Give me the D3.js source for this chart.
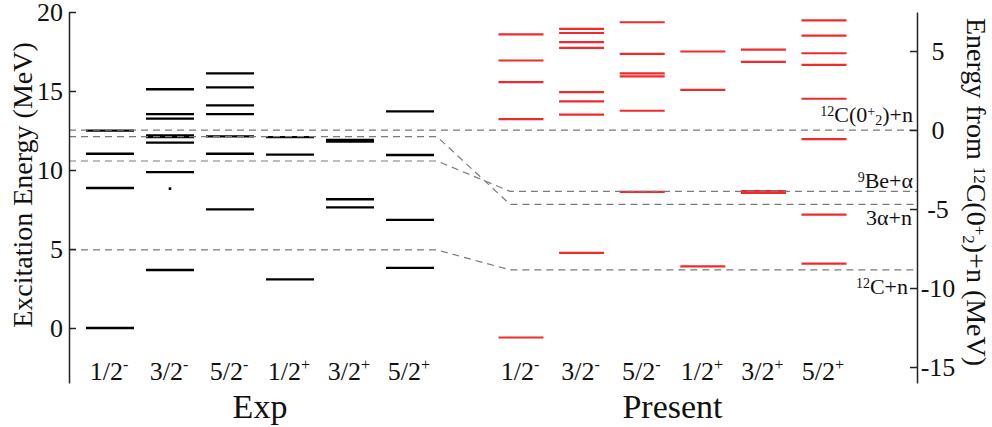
<!DOCTYPE html>
<html><head><meta charset="utf-8">
<script src="https://cdn.jsdelivr.net/npm/d3@7"></script>
</head><body style="margin:0">
<svg id="chart" width="992" height="427"></svg>
<script>
// ---------- data ----------
const categories = ["1/2-", "3/2-", "5/2-", "1/2+", "3/2+", "5/2+"];
const groupLabels = ["Exp", "Present"];
const leftTicks = [0, 5, 10, 15, 20];
const rightTicks = [-15, -10, -5, 0, 5];
// shift between left (excitation) axis and right (from 12C(0+2)+n) axis
const axisShift = 12.53;

// experimental levels (excitation energy, MeV)
const exp_1_2m = [0, 8.86, 11.03, 12.49];
const exp_3_2m = [3.67, 9.87, 11.73, 12.08, 12.19, 13.25, 13.54, 15.11];
const exp_5_2m = [7.51, 11.03, 12.13, 13.54, 14.09, 15.23, 16.12];
const exp_1_2p = [3.08, 10.97, 12.08];
const exp_3_2p = [7.64, 8.15, 11.80, 11.90];
const exp_5_2p = [3.80, 6.84, 10.95, 13.71];
const expDots = [{cat: "3/2-", e: 8.82}];

// present levels (energy from 12C(0+2)+n, MeV)
const pres_1_2m = [-13.13, 0.69, 3.03, 4.40, 6.06];
const pres_3_2m = [-7.78, 0.97, 1.81, 2.40, 5.20, 5.56, 6.14, 6.40];
const pres_5_2m = [-3.91, 1.22, 3.39, 3.58, 4.82, 6.82];
const pres_1_2p = [-8.63, 2.54, 4.97];
const pres_3_2p = [-3.98, -3.86, 4.31, 5.09];
const pres_5_2p = [-8.46, -5.35, -0.57, 1.98, 4.12, 4.86, 5.98, 6.94];

// thresholds
const thrNames = ["12C(0+2)+n", "3α+n", "9Be+α", "12C+n"];
const thrExp = [12.53, 12.11, 10.57, 4.94];      // left axis
const thrPres = [0, -4.70, -3.88, -8.85];         // right axis

// ---------- layout ----------
const svg = d3.select("#chart");
const FONT = '"Liberation Serif", monospace';
const axL = 69, axR = 917, yTop = 12, yBot = 383;
const yL = d3.scaleLinear().domain([20 - (yBot - yTop) / 15.8, 20]).range([yBot, yTop]);
const yR = d3.scaleLinear().domain(yL.domain().map(v => v - axisShift)).range([yBot, yTop]);
const xExp = d3.scalePoint().domain(categories).range([110, 410]);
const xPres = d3.scalePoint().domain(categories).range([521, 824]);
const hwExp = 24, hwPres = 22.5;

const expTable = categories.map((c, i) => ({cat: c, vals: [exp_1_2m, exp_3_2m, exp_5_2m, exp_1_2p, exp_3_2p, exp_5_2p][i]}));
const presTable = categories.map((c, i) => ({cat: c, vals: [pres_1_2m, pres_3_2m, pres_5_2m, pres_1_2p, pres_3_2p, pres_5_2p][i]}));

// ---------- levels ----------
expTable.forEach(col => {
  svg.append("g").selectAll("line").data(col.vals).join("line")
    .attr("x1", xExp(col.cat) - hwExp).attr("x2", xExp(col.cat) + hwExp)
    .attr("y1", d => yL(d)).attr("y2", d => yL(d))
    .attr("stroke", "#000").attr("stroke-width", 2.3);
});
svg.append("g").selectAll("rect").data(expDots).join("rect")
  .attr("x", d => xExp(d.cat) - 1.3).attr("y", d => yL(d.e) - 1.3)
  .attr("width", 2.6).attr("height", 2.6).attr("fill", "#000");
presTable.forEach(col => {
  svg.append("g").selectAll("line").data(col.vals).join("line")
    .attr("x1", xPres(col.cat) - hwPres).attr("x2", xPres(col.cat) + hwPres)
    .attr("y1", d => yR(d)).attr("y2", d => yR(d))
    .attr("stroke", "#f02a2a").attr("stroke-width", 2.2);
});

// ---------- thresholds ----------
const xBreak1 = xExp(categories[5]) + hwExp + 3;
const xBreak2 = xPres(categories[0]) - 11;
const line = d3.line();
thrNames.forEach((n, i) => {
  svg.append("path")
    .attr("d", line([[axL, yL(thrExp[i])], [xBreak1, yL(thrExp[i])], [xBreak2, yR(thrPres[i])], [axR, yR(thrPres[i])]]))
    .attr("fill", "none").attr("stroke", "#7a7a7a").attr("stroke-width", 1.2)
    .attr("stroke-dasharray", "7,5");
});

// ---------- axes ----------
const gL = svg.append("g").attr("transform", `translate(${axL},0)`)
  .call(d3.axisLeft(yL).tickValues(leftTicks).tickFormat(d => String(d))
    .tickSizeInner(-7).tickSizeOuter(0).tickPadding(6));
const gR = svg.append("g").attr("transform", `translate(${axR},0)`)
  .call(d3.axisRight(yR).tickValues(rightTicks).tickFormat(d => String(d))
    .tickSizeInner(-7).tickSizeOuter(0).tickPadding(21));
[gL, gR].forEach(g => {
  g.attr("font-family", null).attr("font-size", null);
  g.select(".domain").attr("stroke", "#222").attr("stroke-width", 1.5);
  g.selectAll(".tick line").attr("stroke", "#222").attr("stroke-width", 1.5);
  g.selectAll(".tick text").style("font-family", FONT).style("font-size", "26px").attr("fill", "#111");
});
gR.selectAll(".tick text").attr("text-anchor", "middle");

// ---------- texts ----------
function txt(parent, size) {
  return parent.append("text").style("font-family", FONT).style("font-size", size + "px").attr("fill", "#111");
}
// rich text helper: segments with optional superscript/subscript
function rich(sel, segs, size, supF = 0.38, subF = 0.2) {
  const small = Math.round(size * 0.62);
  let cur = 0;
  segs.forEach(s => {
    const target = s.k === "sup" ? -size * supF : s.k === "sub" ? size * subF : 0;
    sel.append("tspan")
      .style("font-family", FONT)
      .style("font-size", (s.k ? small : size) + "px")
      .attr("dy", target - cur)
      .text(s.t);
    cur = target;
  });
}
function parseName(n) {
  if (n === "12C(0+2)+n") return [{t:"12",k:"sup"},{t:"C(0"},{t:"+",k:"sup"},{t:"2",k:"sub"},{t:")+n"}];
  if (n === "9Be+α") return [{t:"9",k:"sup"},{t:"Be+α"}];
  if (n === "12C+n") return [{t:"12",k:"sup"},{t:"C+n"}];
  return [{t:n}];
}

// axis titles
const tl = txt(svg, 28).attr("transform", `translate(32,185) rotate(-90)`).attr("text-anchor", "middle");
rich(tl, [{t:"Excitation Energy (MeV)"}], 28);
const tr = txt(svg, 28).attr("transform", `translate(967,192) rotate(90)`).attr("text-anchor", "middle");
rich(tr, [{t:"Energy from "},{t:"12",k:"sup"},{t:"C(0"},{t:"+",k:"sup"},{t:"2",k:"sub"},{t:")+n (MeV)"}], 28, 0.26, 0.14);

// threshold labels
const thrLabelDy = [-8, 21, -3, 24];
const thrLabelDx = [-4, -5, -4, -9];
thrNames.forEach((n, i) => {
  const t = txt(svg, 22).attr("x", axR + thrLabelDx[i]).attr("y", yR(thrPres[i]) + thrLabelDy[i])
    .attr("text-anchor", "end");
  rich(t, parseName(n), 22, 0.27, 0.14);
});

// category labels
[xExp, xPres].forEach(xs => {
  categories.forEach(c => {
    const t = txt(svg, 26).attr("x", xs(c) - 1).attr("y", 380).attr("text-anchor", "middle");
    rich(t, [{t: c.slice(0, 3)}, {t: c.slice(3), k: "sup"}], 26);
  });
});
// group labels
[[xExp, groupLabels[0]], [xPres, groupLabels[1]]].forEach(([xs, g]) => {
  const mid = (xs.range()[0] + xs.range()[1]) / 2;
  txt(svg, 34).attr("x", mid).attr("y", 418).attr("text-anchor", "middle").text(g);
});
</script>
</body></html>
